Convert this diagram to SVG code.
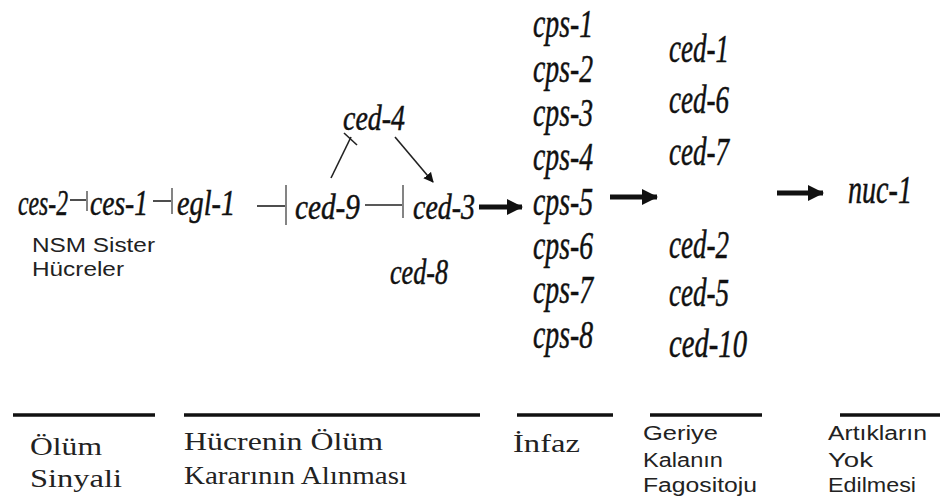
<svg xmlns="http://www.w3.org/2000/svg" width="942" height="502" viewBox="0 0 942 502">
<style>
.g{font-family:"Liberation Serif",serif;font-style:italic;font-size:40px;fill:#111;stroke:#111;stroke-width:0.5}
.m{font-size:36px}
.s{font-family:"Liberation Sans",Arial,sans-serif;font-size:20px;fill:#222}
.t{font-family:"Liberation Serif",serif;font-size:26px;fill:#222}
.ln{stroke:#222;stroke-width:1.6;fill:none}
.bar{stroke:#777;stroke-width:1.8}
.thick{stroke:#111;stroke-width:5;fill:none}
.rule{stroke:#111;stroke-width:3.5}
</style>
<defs>
<marker id="ah" markerWidth="10" markerHeight="10" refX="9" refY="5" orient="auto" markerUnits="userSpaceOnUse"><path d="M0,0 L10,5 L0,10 z" fill="#111"/></marker>
<marker id="bh" markerWidth="16" markerHeight="16" refX="15" refY="8" orient="auto" markerUnits="userSpaceOnUse"><path d="M0,0 L16,8 L0,16 z" fill="#111"/></marker>
</defs>
<rect width="942" height="502" fill="#fff"/>
<g id="ces-2"><text class="g m" x="18" y="215" textLength="50" lengthAdjust="spacingAndGlyphs">ces-2</text></g>
<g id="ces-1"><text class="g m" x="90" y="215" textLength="58" lengthAdjust="spacingAndGlyphs">ces-1</text>
<text class="s" x="32" y="252" textLength="123" lengthAdjust="spacingAndGlyphs">NSM Sister</text>
<text class="s" x="32" y="276" textLength="92" lengthAdjust="spacingAndGlyphs">Hücreler</text></g>
<g id="egl-1"><text class="g m" x="177" y="215" textLength="58" lengthAdjust="spacingAndGlyphs">egl-1</text></g>
<g id="ced-9"><text class="g m" x="295" y="219" textLength="65" lengthAdjust="spacingAndGlyphs">ced-9</text></g>
<g id="ced-4"><text class="g m" x="343" y="130" textLength="62" lengthAdjust="spacingAndGlyphs">ced-4</text></g>
<g id="ced-3"><text class="g m" x="413" y="219" textLength="62" lengthAdjust="spacingAndGlyphs">ced-3</text></g>
<g id="ced-8"><text class="g m" x="390" y="284" textLength="58" lengthAdjust="spacingAndGlyphs">ced-8</text></g>
<g id="cps">
<text class="g" x="533" y="37" textLength="60" lengthAdjust="spacingAndGlyphs">cps-1</text>
<text class="g" x="533" y="82" textLength="60" lengthAdjust="spacingAndGlyphs">cps-2</text>
<text class="g" x="533" y="126" textLength="60" lengthAdjust="spacingAndGlyphs">cps-3</text>
<text class="g" x="533" y="170" textLength="60" lengthAdjust="spacingAndGlyphs">cps-4</text>
<text class="g" x="533" y="215" textLength="60" lengthAdjust="spacingAndGlyphs">cps-5</text>
<text class="g" x="533" y="259" textLength="60" lengthAdjust="spacingAndGlyphs">cps-6</text>
<text class="g" x="533" y="303" textLength="60" lengthAdjust="spacingAndGlyphs">cps-7</text>
<text class="g" x="533" y="348" textLength="60" lengthAdjust="spacingAndGlyphs">cps-8</text>
</g>
<g id="ced-phago">
<text class="g" x="669" y="62" textLength="60" lengthAdjust="spacingAndGlyphs">ced-1</text>
<text class="g" x="669" y="113" textLength="60" lengthAdjust="spacingAndGlyphs">ced-6</text>
<text class="g" x="669" y="165" textLength="60" lengthAdjust="spacingAndGlyphs">ced-7</text>
<text class="g" x="669" y="258" textLength="60" lengthAdjust="spacingAndGlyphs">ced-2</text>
<text class="g" x="669" y="306" textLength="60" lengthAdjust="spacingAndGlyphs">ced-5</text>
<text class="g" x="669" y="357" textLength="78" lengthAdjust="spacingAndGlyphs">ced-10</text>
</g>
<g id="nuc-1"><text class="g" x="848" y="203" textLength="64" lengthAdjust="spacingAndGlyphs">nuc-1</text></g>
<g id="connectors">
<line class="ln" x1="70" y1="200" x2="86" y2="200"/><line class="bar" x1="87" y1="191" x2="87" y2="211"/>
<line class="ln" x1="153" y1="201" x2="171" y2="201"/><line class="bar" x1="172" y1="188" x2="172" y2="214"/>
<line class="ln" x1="257" y1="206" x2="285" y2="206"/><line class="bar" x1="286" y1="185" x2="286" y2="225"/>
<line class="ln" x1="365" y1="205" x2="402" y2="205"/><line class="bar" x1="403" y1="185" x2="403" y2="218"/>
<line class="ln" x1="331" y1="178" x2="351" y2="137"/><line class="ln" x1="344" y1="133" x2="357" y2="145"/>
<line class="ln" x1="395" y1="137" x2="433" y2="182" marker-end="url(#ah)"/>
<line class="thick" x1="479" y1="207" x2="522" y2="207" marker-end="url(#bh)"/>
<line class="thick" x1="610" y1="197" x2="657" y2="197" marker-end="url(#bh)"/>
<line class="thick" x1="777" y1="193" x2="823" y2="193" marker-end="url(#bh)"/>
</g>
<g id="stages">
<line class="rule" x1="13" y1="415" x2="155" y2="415"/>
<line class="rule" x1="184" y1="415" x2="480" y2="415"/>
<line class="rule" x1="517" y1="415" x2="613" y2="415"/>
<line class="rule" x1="650" y1="415" x2="762" y2="415"/>
<line class="rule" x1="840" y1="415" x2="940" y2="415"/>
<text class="t" x="30" y="455" textLength="72" lengthAdjust="spacingAndGlyphs">Ölüm</text>
<text class="t" x="30" y="487" textLength="92" lengthAdjust="spacingAndGlyphs">Sinyali</text>
<text class="t" x="184" y="450" textLength="199" lengthAdjust="spacingAndGlyphs">Hücrenin Ölüm</text>
<text class="t" x="184" y="484" textLength="223" lengthAdjust="spacingAndGlyphs">Kararının Alınması</text>
<text class="t" x="513" y="452" textLength="67" lengthAdjust="spacingAndGlyphs">İnfaz</text>
<text class="s" x="643" y="440" textLength="75" lengthAdjust="spacingAndGlyphs">Geriye</text>
<text class="s" x="643" y="467" textLength="80" lengthAdjust="spacingAndGlyphs">Kalanın</text>
<text class="s" x="643" y="492" textLength="114" lengthAdjust="spacingAndGlyphs">Fagositoju</text>
<text class="s" x="828" y="440" textLength="99" lengthAdjust="spacingAndGlyphs">Artıkların</text>
<text class="s" x="828" y="467" textLength="45" lengthAdjust="spacingAndGlyphs">Yok</text>
<text class="s" x="828" y="492" textLength="88" lengthAdjust="spacingAndGlyphs">Edilmesi</text>
</g>
</svg>
